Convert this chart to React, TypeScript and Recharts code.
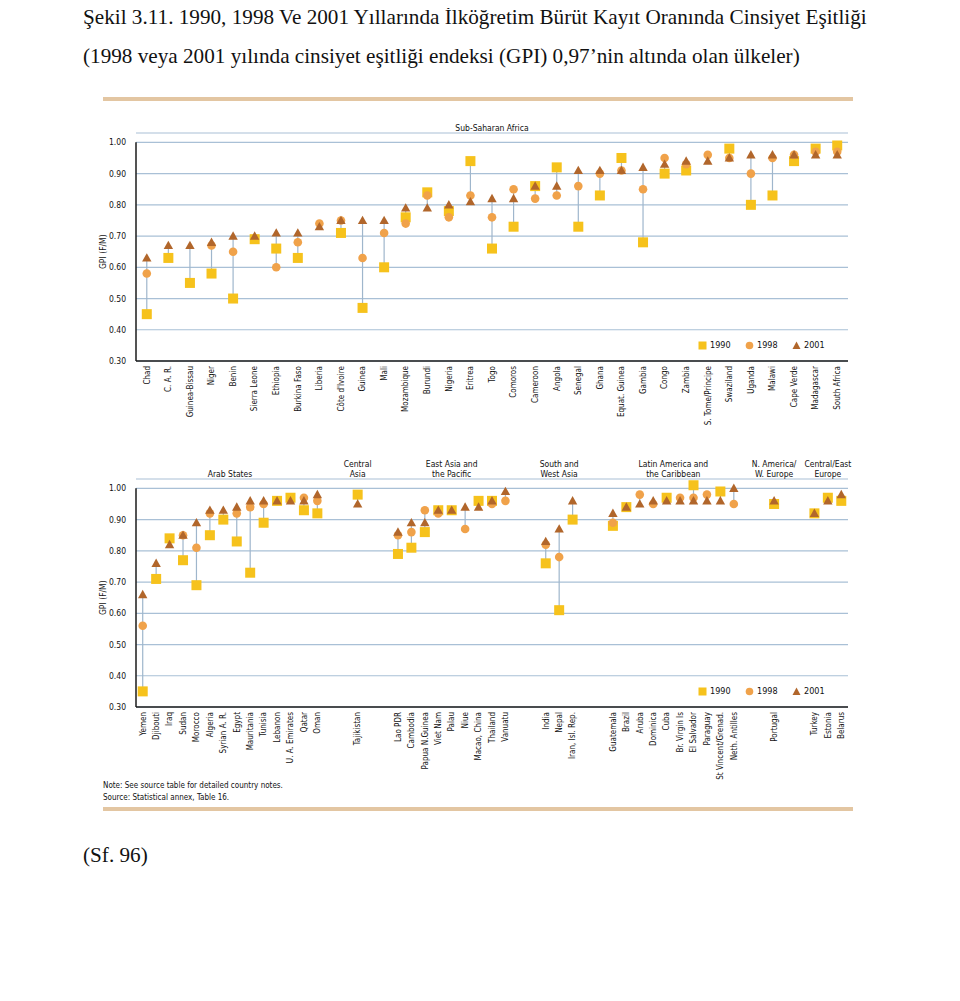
import React from 'react';
import { ComposedChart, Scatter, XAxis, YAxis, CartesianGrid, ReferenceLine, Legend, Label } from 'recharts';

// ---------- Data: Sub-Saharan Africa ----------
const ssaCountries = [
  'Chad', 'C. A. R.', 'Guinea-Bissau', 'Niger', 'Benin', 'Sierra Leone', 'Ethiopia', 'Burkina Faso',
  'Liberia', "Côte d'Ivoire", 'Guinea', 'Mali', 'Mozambique', 'Burundi', 'Nigeria', 'Eritrea', 'Togo',
  'Comoros', 'Cameroon', 'Angola', 'Senegal', 'Ghana', 'Equat. Guinea', 'Gambia', 'Congo', 'Zambia',
  'S. Tome/Principe', 'Swaziland', 'Uganda', 'Malawi', 'Cape Verde', 'Madagascar', 'South Africa',
];
const ssa1990 = [0.45, 0.63, 0.55, 0.58, 0.50, 0.69, 0.66, 0.63, null, 0.71, 0.47, 0.60, 0.76, 0.84, 0.78, 0.94, 0.66,
  0.73, 0.86, 0.92, 0.73, 0.83, 0.95, 0.68, 0.90, 0.91, null, 0.98, 0.80, 0.83, 0.94, 0.98, 0.99];
const ssa1998 = [0.58, null, null, 0.67, 0.65, null, 0.60, 0.68, 0.74, 0.75, 0.63, 0.71, 0.74, 0.83, 0.76, 0.83, 0.76,
  0.85, 0.82, 0.83, 0.86, 0.90, 0.91, 0.85, 0.95, 0.93, 0.96, 0.95, 0.90, 0.95, 0.96, 0.97, 0.97];
const ssa2001 = [0.63, 0.67, 0.67, 0.68, 0.70, 0.70, 0.71, 0.71, 0.73, 0.75, 0.75, 0.75, 0.79, 0.79, 0.80, 0.81, 0.82,
  0.82, 0.86, 0.86, 0.91, 0.91, 0.91, 0.92, 0.93, 0.94, 0.94, 0.95, 0.96, 0.96, 0.96, 0.96, 0.96];
const ssaGroupCenters = [16];
const ssaGroupLabels = [['Sub-Saharan Africa']];

// ---------- Data: other regions (empty strings are gaps between regions) ----------
const othCountries = [
  'Yemen', 'Djibouti', 'Iraq', 'Sudan', 'Morocco', 'Algeria', 'Syrian A. R.', 'Egypt', 'Mauritania', 'Tunisia',
  'Lebanon', 'U. A. Emirates', 'Qatar', 'Oman', '', '', 'Tajikistan', '', '',
  'Lao PDR', 'Cambodia', 'Papua N.Guinea', 'Viet Nam', 'Palau', 'Niue', 'Macao, China', 'Thailand', 'Vanuatu', '', '',
  'India', 'Nepal', 'Iran, Isl. Rep.', '', '',
  'Guatemala', 'Brazil', 'Aruba', 'Dominica', 'Cuba', 'Br. Virgin Is', 'El Salvador', 'Paraguay',
  'St Vincent/Grenad.', 'Neth. Antilles', '', '', 'Portugal', '', '', 'Turkey', 'Estonia', 'Belarus',
];
const oth1990 = [0.35, 0.71, 0.84, 0.77, 0.69, 0.85, 0.90, 0.83, 0.73, 0.89, 0.96, 0.97, 0.93, 0.92, null, null, 0.98, null, null,
  0.79, 0.81, 0.86, 0.93, 0.93, null, 0.96, 0.96, null, null, null,
  0.76, 0.61, 0.90, null, null,
  0.88, 0.94, null, null, 0.97, null, 1.01, null, 0.99, null, null, null, 0.95, null, null, 0.92, 0.97, 0.96];
const oth1998 = [0.56, null, null, 0.85, 0.81, 0.92, null, 0.92, 0.94, 0.95, null, null, 0.97, 0.96, null, null, null, null, null,
  0.85, 0.86, 0.93, 0.92, null, 0.87, null, 0.95, 0.96, null, null,
  0.82, 0.78, null, null, null,
  0.89, null, 0.98, 0.95, null, 0.97, 0.97, 0.98, null, 0.95, null, null, null, null, null, null, null, null];
const oth2001 = [0.66, 0.76, 0.82, 0.85, 0.89, 0.93, 0.93, 0.94, 0.96, 0.96, 0.96, 0.96, 0.96, 0.98, null, null, 0.95, null, null,
  0.86, 0.89, 0.89, 0.93, 0.93, 0.94, 0.94, 0.96, 0.99, null, null,
  0.83, 0.87, 0.96, null, null,
  0.92, 0.94, 0.95, 0.96, 0.96, 0.96, 0.96, 0.96, 0.96, 1.00, null, null, 0.96, null, null, 0.92, 0.96, 0.98];
const othGroupCenters = [6.5, 16, 23, 31, 39.5, 47, 51];
const othGroupLabels = [
  ['Arab States'], ['Central', 'Asia'], ['East Asia and', 'the Pacific'], ['South and', 'West Asia'],
  ['Latin America and', 'the Caribbean'], ['N. America/', 'W. Europe'], ['Central/East', 'Europe'],
];

const yTicks = [0.3, 0.4, 0.5, 0.6, 0.7, 0.8, 0.9, 1.0];
const seriesNames = ['1990', '1998', '2001'];

// ---------- Styles ----------
const C90 = '#f6c21c';
const C98 = '#f0a24a';
const C01 = '#b1662b';
const GRID = '#a9c0d6';
const CONNECT = '#9fb6cc';
const NARROW = "'Liberation Sans Narrow', 'Arial Narrow', 'DejaVu Sans Condensed', sans-serif";
const SERIF = "'Liberation Serif', 'Times New Roman', serif";

const SquareShape = (p: any) => <rect x={p.cx - 5} y={p.cy - 5} width={10} height={10} fill={C90} />;
const CircleShape = (p: any) => <circle cx={p.cx} cy={p.cy} r={4.3} fill={C98} />;
const TriShape = (p: any) => (
  <polygon points={`${p.cx},${p.cy - 4.8} ${p.cx - 4.7},${p.cy + 3.6} ${p.cx + 4.7},${p.cy + 3.6}`} fill={C01} />
);

const LegendIcon = ({ type, color }: { type: string; color: string }) => (
  <svg width={9} height={9} style={{ display: 'block' }}>
    {type === 'square' && <rect x={0.5} y={0.5} width={8} height={8} fill={color} />}
    {type === 'circle' && <circle cx={4.5} cy={4.5} r={3.8} fill={color} />}
    {type === 'triangle' && <polygon points="4.5,0.5 0.5,8 8.5,8" fill={color} />}
  </svg>
);

const LegendContent = (props: any) => {
  const payload = props.payload || [];
  return (
    <div style={{ display: 'flex', fontFamily: NARROW, fontSize: 9, color: '#111', lineHeight: '12px' }}>
      {payload.map((e: any) => (
        <div key={e.value} style={{ width: 47, display: 'flex', alignItems: 'center' }}>
          <LegendIcon type={e.type} color={e.color} />
          <span style={{ marginLeft: 3 }}>{e.value}</span>
        </div>
      ))}
    </div>
  );
};

type ChartProps = {
  countries: string[];
  s1990: (number | null)[];
  s1998: (number | null)[];
  s2001: (number | null)[];
  groupCenters: number[];
  groupLabels: string[][];
  top: number;
  height: number;
  xAxisHeight: number;
};

const GPIChart = ({ countries, s1990, s1998, s2001, groupCenters, groupLabels, top, height, xAxisHeight }: ChartProps) => {
  const n = countries.length;
  const rows = countries
    .map((name, i) => ({ i, name, v1990: s1990[i], v1998: s1998[i], v2001: s2001[i] }))
    .filter((r) => r.name !== '');
  const d90 = rows.filter((r) => r.v1990 != null);
  const d98 = rows.filter((r) => r.v1998 != null);
  const d01 = rows.filter((r) => r.v2001 != null);
  const tickIdx = rows.map((r) => r.i);

  const XTick = (p: any) => {
    const label = countries[p.payload.value];
    const x = p.x;
    const y = p.y - 3;
    return (
      <text x={x} y={y} transform={`rotate(-90 ${x} ${y})`} textAnchor="end" dy="0.35em"
        fontSize={8} fontFamily={NARROW} fill="#111">
        {label}
      </text>
    );
  };
  const GroupTick = (p: any) => {
    const idx = groupCenters.indexOf(p.payload.value);
    const lines = idx >= 0 ? groupLabels[idx] : [];
    const base = p.y + 5.5;
    return (
      <text textAnchor="middle" fontSize={8.5} fontFamily={NARROW} fill="#111">
        {lines.map((ln, k) => (
          <tspan key={k} x={p.x} y={base - (lines.length - 1 - k) * 10}>{ln}</tspan>
        ))}
      </text>
    );
  };
  const YLabel = (p: any) => {
    const vb = p.viewBox || { x: 0, y: 0, height: 0 };
    const cx = vb.x + 7;
    const cy = vb.y + vb.height * (0.38 / 0.73);
    return (
      <text x={cx} y={cy} transform={`rotate(-90 ${cx} ${cy})`} textAnchor="middle" dy="0.35em"
        fontSize={8.5} fontFamily={NARROW} fill="#111">
        GPI (F/M)
      </text>
    );
  };

  return (
    <div style={{ position: 'absolute', left: 0, top, width: 944, height }}>
      <ComposedChart width={944} height={height} margin={{ top: 0, right: 104, bottom: 0, left: 88 }}>
        <CartesianGrid horizontal vertical={false} stroke={GRID} strokeWidth={1.2} />
        <XAxis dataKey="i" type="number" domain={[-0.5, n - 0.5]} allowDataOverflow ticks={tickIdx} interval={0}
          height={xAxisHeight} tickLine={false} axisLine={{ stroke: '#1b1b1b', strokeWidth: 1.5 }} tick={XTick} />
        <XAxis xAxisId="grp" dataKey="i" type="number" orientation="top" domain={[-0.5, n - 0.5]} allowDataOverflow
          ticks={groupCenters} interval={0} height={28} tickLine={false} axisLine={false} tick={GroupTick} />
        <YAxis type="number" domain={[0.3, 1.03]} allowDataOverflow ticks={yTicks} interval={0} width={40}
          tickLine={false} axisLine={false} tickMargin={4}
          tick={{ fontSize: 8.5, fontFamily: NARROW, fill: '#111' }} tickFormatter={(v: number) => v.toFixed(2)}>
          <Label content={YLabel} />
        </YAxis>
        <ReferenceLine segment={[{ x: -0.5, y: 0.3 }, { x: -0.5, y: 1.0 }]} stroke="#1b1b1b" strokeWidth={1.5}
          ifOverflow="visible" />
        {rows.map((r) => {
          const vals = [r.v1990, r.v1998, r.v2001].filter((v) => v != null) as number[];
          const lo = Math.min(...vals);
          const hi = Math.max(...vals);
          return (
            <ReferenceLine key={`c${r.i}`} segment={[{ x: r.i, y: lo }, { x: r.i, y: hi }]} stroke={CONNECT}
              strokeWidth={1.2} ifOverflow="visible" />
          );
        })}
        <Legend verticalAlign="middle" align="center" layout="horizontal" content={LegendContent}
          wrapperStyle={{ left: 690, top: 234, width: 160, height: 12 }} />
        <Scatter name={seriesNames[0]} data={d90} dataKey="v1990" fill={C90} legendType="square" shape={SquareShape}
          isAnimationActive={false} />
        <Scatter name={seriesNames[1]} data={d98} dataKey="v1998" fill={C98} legendType="circle" shape={CircleShape}
          isAnimationActive={false} />
        <Scatter name={seriesNames[2]} data={d01} dataKey="v2001" fill={C01} legendType="triangle" shape={TriShape}
          isAnimationActive={false} />
      </ComposedChart>
    </div>
  );
};

export default function App() {
  return (
    <div style={{ position: 'relative', width: 944, height: 985, fontFamily: SERIF, color: '#111' }}>
      <div style={{ position: 'absolute', left: 75, top: -4, fontSize: 21.2, whiteSpace: 'nowrap', lineHeight: '26px' }}>
        Şekil 3.11. 1990, 1998 Ve 2001 Yıllarında İlköğretim Bürüt Kayıt Oranında Cinsiyet Eşitliği
      </div>
      <div style={{ position: 'absolute', left: 75, top: 35, fontSize: 21.2, whiteSpace: 'nowrap', lineHeight: '26px' }}>
        (1998 veya 2001 yılında cinsiyet eşitliği endeksi (GPI) 0,97’nin altında olan ülkeler)
      </div>
      <div style={{ position: 'absolute', left: 95, top: 89, width: 750, height: 4, background: '#e3c6a2' }} />

      <GPIChart countries={ssaCountries} s1990={ssa1990} s1998={ssa1998} s2001={ssa2001}
        groupCenters={ssaGroupCenters} groupLabels={ssaGroupLabels} top={97} height={336} xAxisHeight={80} />
      <GPIChart countries={othCountries} s1990={oth1990} s1998={oth1998} s2001={oth2001}
        groupCenters={othGroupCenters} groupLabels={othGroupLabels} top={443} height={346} xAxisHeight={90} />

      <div style={{ position: 'absolute', left: 95, top: 772, fontFamily: NARROW, fontSize: 8, lineHeight: '12px' }}>
        <div>Note: See source table for detailed country notes.</div>
        <div>Source: Statistical annex, Table 16.</div>
      </div>
      <div style={{ position: 'absolute', left: 95, top: 799, width: 750, height: 4, background: '#e3c6a2' }} />
      <div style={{ position: 'absolute', left: 75, top: 834, fontSize: 21.2, whiteSpace: 'nowrap', lineHeight: '26px' }}>
        (Sf. 96)
      </div>
    </div>
  );
}
